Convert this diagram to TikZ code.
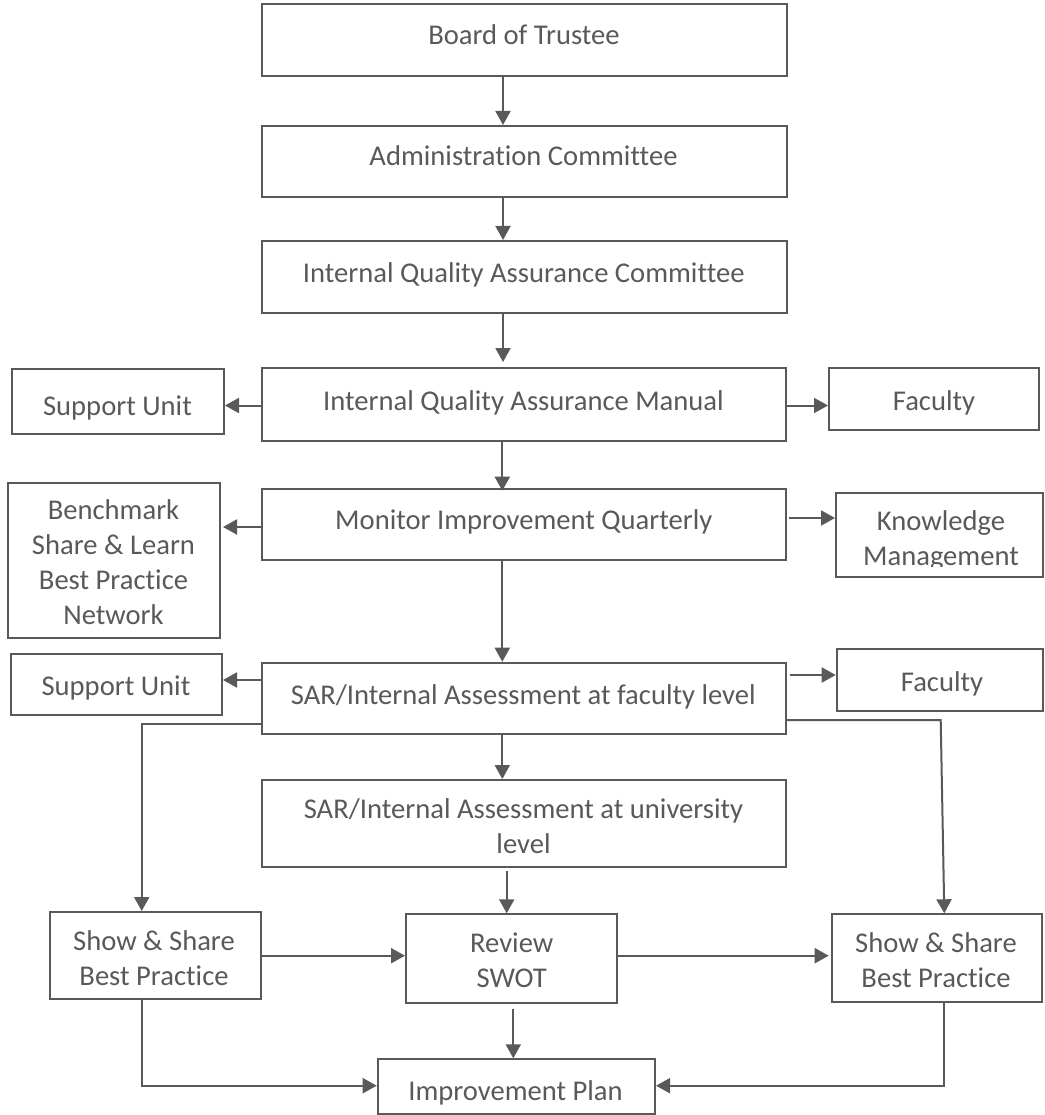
\documentclass[tikz,border=0pt]{standalone}
\usepackage{fontspec}
\setmainfont{Carlito}[Ligatures={NoCommon}]
\usetikzlibrary{arrows.meta}
\definecolor{lg}{HTML}{595959}
\begin{document}
\begin{tikzpicture}[x=1pt,y=-1pt,
  box/.style={draw=lg, line width=2pt, inner sep=0pt, fill=none},
  txt/.style={text=lg, inner sep=0pt, align=center,
    font=\fontsize{28.6}{35}\selectfont,
    execute at begin node=\strut, execute at end node=\strut},
  arr/.style={draw=lg, line width=2pt, -{Triangle[length=14pt,width=15pt]}},
  ln/.style={draw=lg, line width=2pt}]
\useasboundingbox (0,0) rectangle (1044,1115);
% boxes
\node[box, minimum width=524.4pt, minimum height=72pt] (board) at (524.5,40) {};
\node[box, minimum width=524.4pt, minimum height=71pt] (admin) at (524.5,161.5) {};
\node[box, minimum width=524.4pt, minimum height=72pt] (iqac) at (524.5,277) {};
\node[box, minimum width=524pt, minimum height=73pt] (manual) at (524,404.5) {};
\node[box, minimum width=212pt, minimum height=65pt] (supp1) at (118,401.5) {};
\node[box, minimum width=210pt, minimum height=62pt] (fac1) at (934,399) {};
\node[box, minimum width=524pt, minimum height=71.3pt] (monitor) at (524,524.35) {};
\node[box, minimum width=212pt, minimum height=155.3pt] (bench) at (114,560.35) {};
\node[box, minimum width=207pt, minimum height=84.3pt] (know) at (939.5,534.85) {};
\node[box, minimum width=523.7pt, minimum height=71.3pt] (sarf) at (524.15,698.35) {};
\node[box, minimum width=211.3pt, minimum height=61pt] (supp2) at (116.35,684.5) {};
\node[box, minimum width=206.3pt, minimum height=61.7pt] (fac2) at (939.85,679.85) {};
\node[box, minimum width=523.7pt, minimum height=86.5pt] (saru) at (524.15,823.25) {};
\node[box, minimum width=211pt, minimum height=87.3pt] (ssl) at (155.2,955.65) {};
\node[box, minimum width=211.3pt, minimum height=89pt] (review) at (511.65,958.8) {};
\node[box, minimum width=210pt, minimum height=87.4pt] (ssr) at (936.7,958) {};
\node[box, minimum width=277.3pt, minimum height=54.7pt] (impr) at (516.35,1086.65) {};
% texts
\node[txt] (boardT) at (524,38) {Board of Trustee};
\node[txt] (adminT) at (523.5,159) {Administration Committee};
\node[txt] (iqacT) at (523.7,275) {Internal Quality Assurance Committee};
\node[txt] (manualT) at (523.5,403) {Internal Quality Assurance Manual};
\node[txt] (supp1T) at (117.5,408) {Support Unit};
\node[txt] (fac1T) at (934,403) {Faculty};
\node[txt] (monitorT) at (523.8,522) {Monitor Improvement Quarterly};
\node[txt] (benchT) at (113.5,567) {Benchmark\\Share \& Learn\\Best Practice\\Network};
\begin{scope}
\clip (836,492.7) rectangle (1043,566);
\node[txt] (knowT) at (941,543.5) {Knowledge\\Management};
\end{scope}
\node[txt] (sarfT) at (523.3,697) {SAR/Internal Assessment at faculty level};
\node[txt] (supp2T) at (116,688) {Support Unit};
\node[txt] (fac2T) at (942,684) {Faculty};
\node[txt] (saruT) at (523.5,831.5) {SAR/Internal Assessment at university\\level};
\node[txt] (sslT) at (154,963.5) {Show \& Share\\Best Practice};
\node[txt] (reviewT) at (511.7,965) {Review\\SWOT};
\node[txt] (ssrT) at (936,965) {Show \& Share\\Best Practice};
\node[txt] (imprT) at (515.5,1093) {Improvement Plan};
% helper coordinates
\coordinate (ax) at (503,0);
\coordinate (bx) at (502.3,0);
\coordinate (cx) at (506.7,0);
\coordinate (dx) at (513.3,0);
\coordinate (xl) at (141.7,0);
\coordinate (xr) at (944.3,0);
\coordinate (y1) at (0,405.5);
\coordinate (y2) at (0,527);
\coordinate (y3) at (0,518);
\coordinate (y4) at (0,680);
\coordinate (y5) at (0,675);
\coordinate (yL) at (0,723.7);
\coordinate (yR) at (0,720);
\coordinate (yM) at (0,955.7);
\coordinate (yI) at (0,1085.7);
\coordinate (rb) at (940.7,720);
% connectors
\draw[arr] (board.south -| ax) -- (admin.north -| ax);
\draw[arr] (admin.south -| ax) -- (iqac.north -| ax);
\draw[arr, shorten >=5pt] (iqac.south -| ax) -- (manual.north -| ax);
\draw[arr] (manual.west |- y1) -- (supp1.east |- y1);
\draw[arr] (manual.east |- y1) -- (fac1.west |- y1);
\draw[arr, shorten >=-3pt] (manual.south -| bx) -- (monitor.north -| bx);
\draw[arr, shorten >=2pt] (monitor.west |- y2) -- (bench.east |- y2);
\draw[arr, shorten <=2pt] (monitor.east |- y3) -- (know.west |- y3);
\draw[arr] (monitor.south -| bx) -- (sarf.north -| bx);
\draw[arr] (sarf.west |- y4) -- (supp2.east |- y4);
\draw[arr, shorten <=3pt] (sarf.east |- y5) -- (fac2.west |- y5);
\draw[arr] (sarf.west |- yL) -| (xl |- ssl.north);
\draw[arr] (sarf.east |- yR) -- (rb) -- (xr |- ssr.north);
\draw[arr] (sarf.south -| bx) -- (saru.north -| bx);
\draw[arr, shorten <=3pt] (saru.south -| cx) -- (review.north -| cx);
\draw[arr] (ssl.east |- yM) -- (review.west |- yM);
\draw[arr, shorten >=2pt] (review.east |- yM) -- (ssr.west |- yM);
\draw[arr, shorten <=5pt] (review.south -| dx) -- (impr.north -| dx);
\draw[arr] (xl |- ssl.south) |- (impr.west |- yI);
\draw[arr] (xr |- ssr.south) |- (impr.east |- yI);
\end{tikzpicture}
\end{document}
